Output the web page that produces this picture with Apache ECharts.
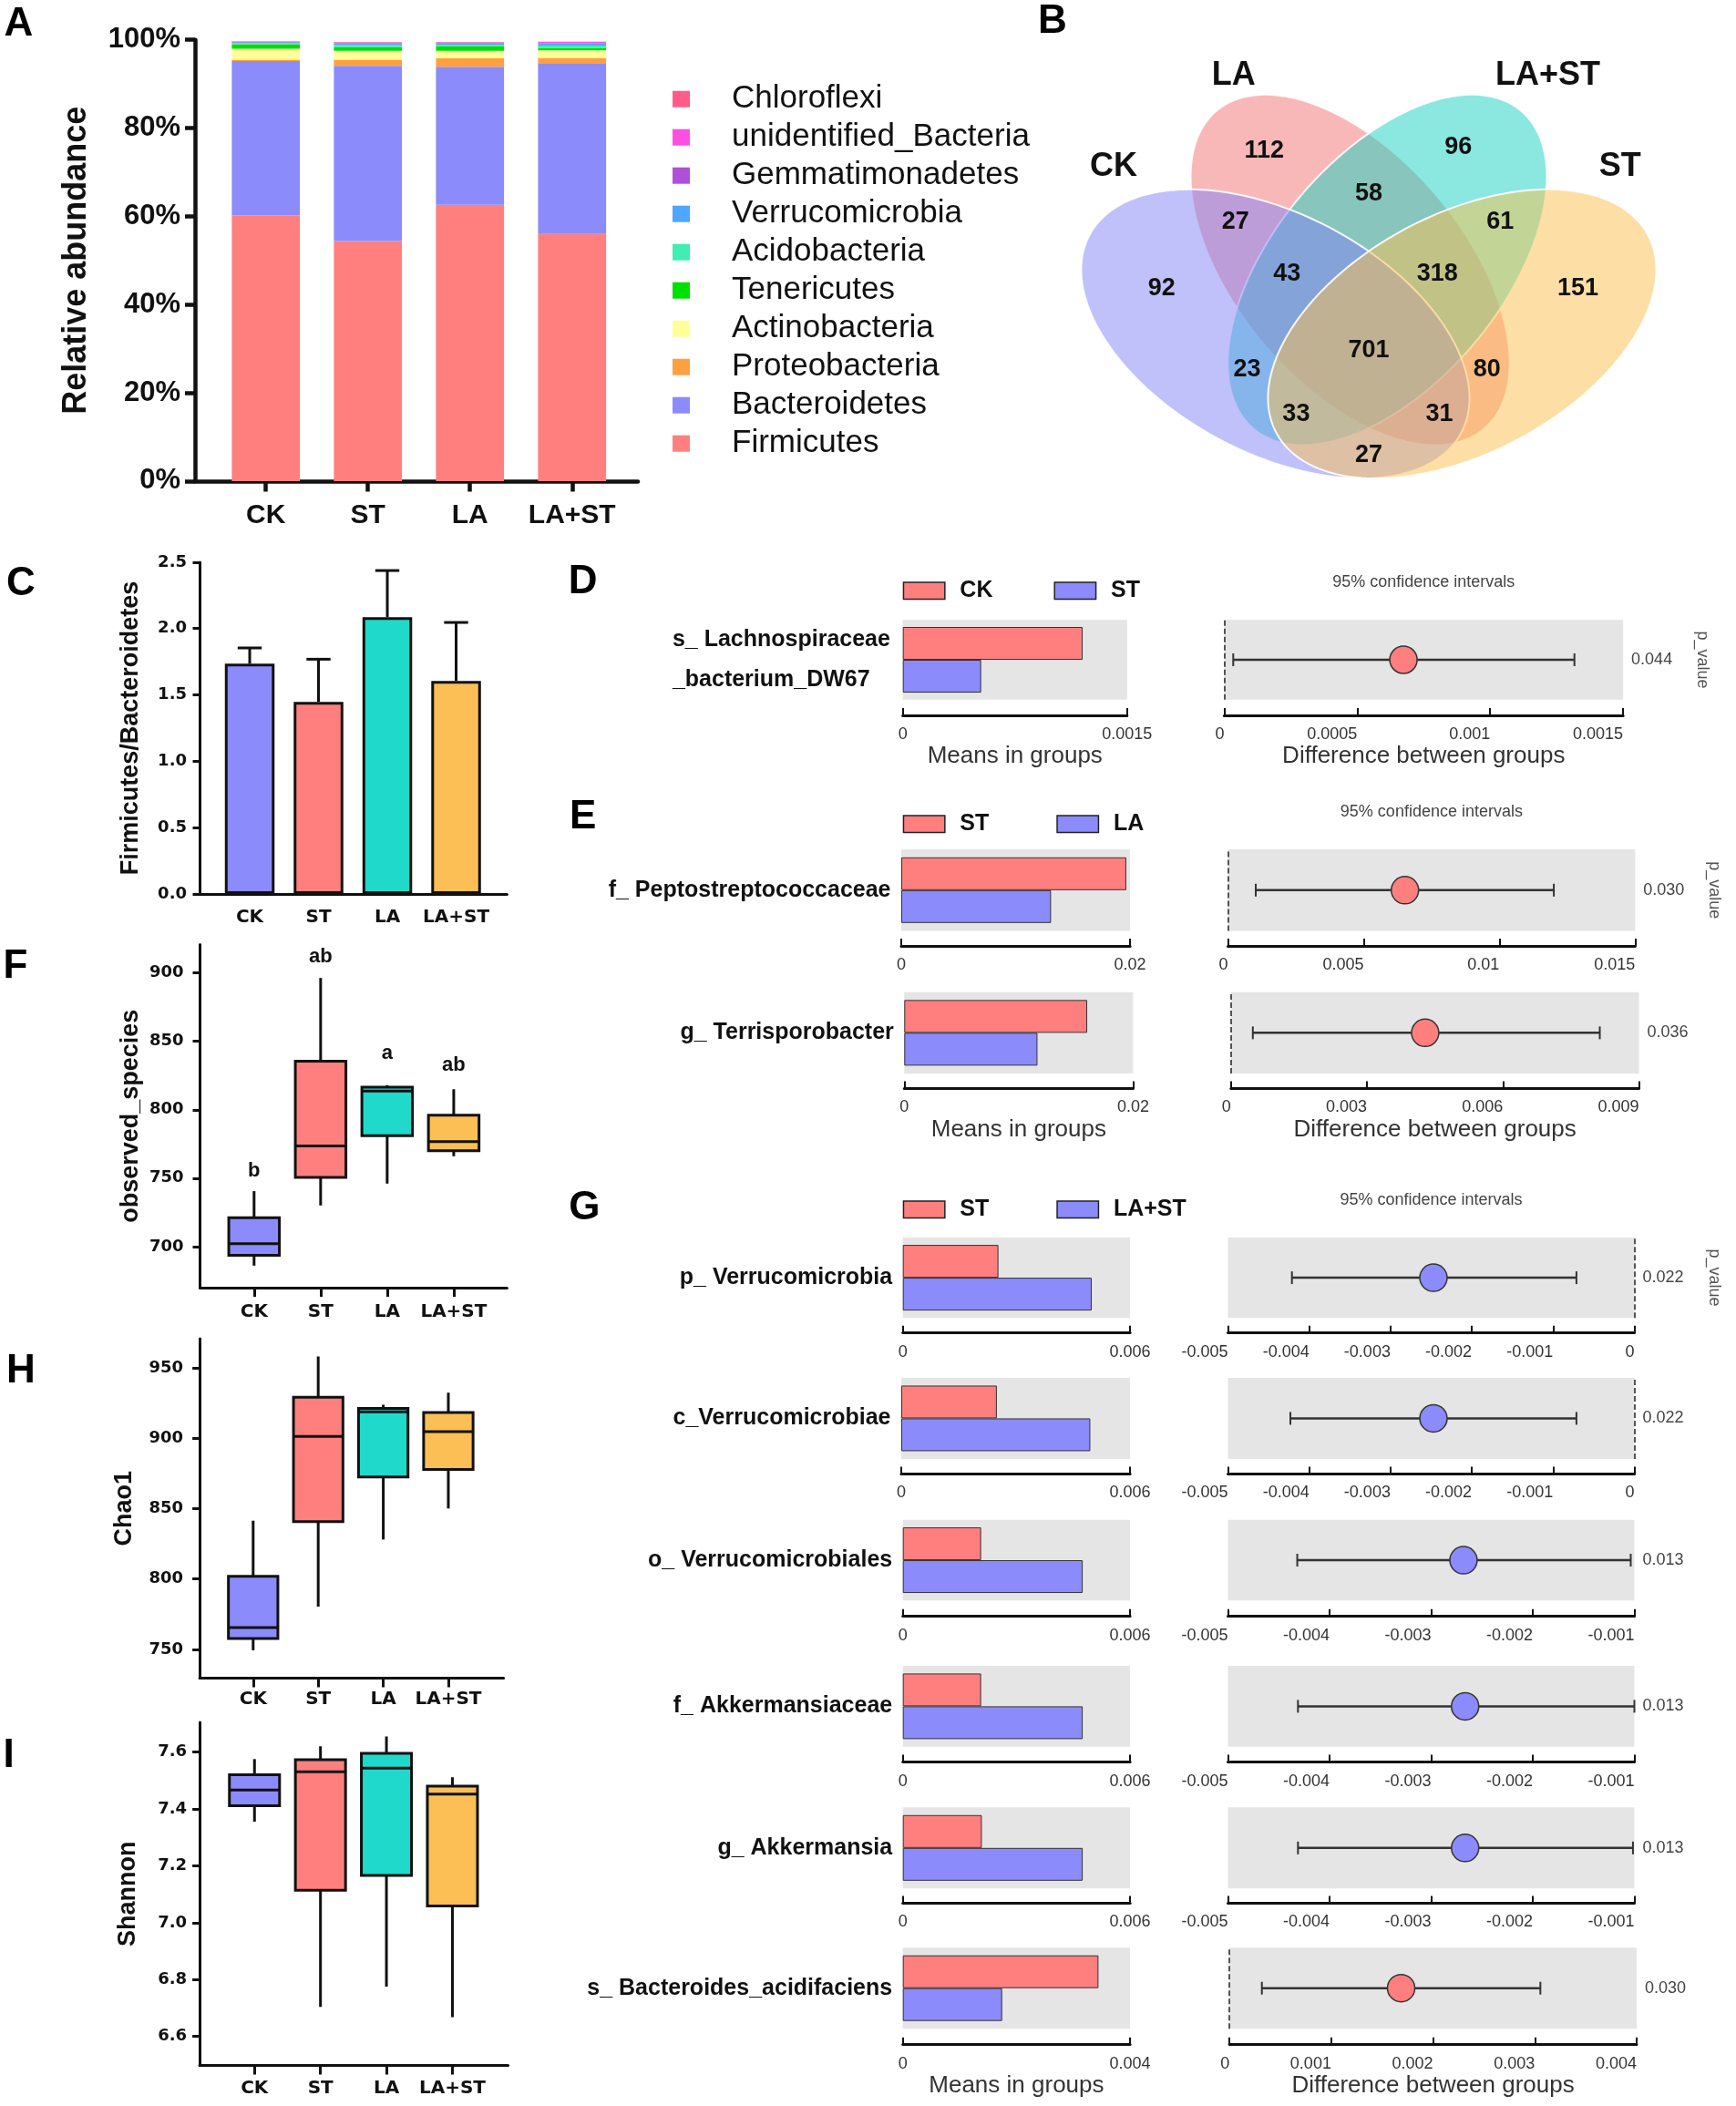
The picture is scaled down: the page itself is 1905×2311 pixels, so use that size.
<!DOCTYPE html>
<html><head><meta charset="utf-8">
<script src="https://cdn.jsdelivr.net/npm/echarts@6/dist/echarts.min.js"></script>
<style>html,body{margin:0;padding:0;background:#fff}#c{width:1905px;height:2311px}</style>
</head><body><div id="c"></div>
<script>
// ================= DATA =================
const groups = ['CK', 'ST', 'LA', 'LA+ST'];

// Panel A: relative abundance (%) per group, order CK, ST, LA, LA+ST
const phyla = ['Firmicutes','Bacteroidetes','Proteobacteria','Actinobacteria','Tenericutes','Acidobacteria','Verrucomicrobia','Gemmatimonadetes','unidentified_Bacteria','Chloroflexi'];
const firmicutes      = [60.2, 54.4, 62.6, 56.0];
const bacteroidetes   = [35.0, 39.7, 31.3, 38.7];
const proteobacteria  = [0.3, 1.4, 1.9, 1.2];
const actinobacteria  = [2.5, 2.0, 1.7, 1.7];
const tenericutes     = [1.0, 0.9, 1.1, 0.6];
const acidobacteria   = [0.2, 0.4, 0.3, 0.5];
const verrucomicrobia = [0.2, 0.3, 0.3, 0.4];
const gemmatimonadetes= [0.1, 0.1, 0.1, 0.1];
const unidentifiedBac = [0.1, 0.2, 0.1, 0.3];
const chloroflexi     = [0.1, 0.1, 0.1, 0.1];
const abundance = [firmicutes, bacteroidetes, proteobacteria, actinobacteria, tenericutes, acidobacteria, verrucomicrobia, gemmatimonadetes, unidentifiedBac, chloroflexi];
const legendOrderA = ['Chloroflexi','unidentified_Bacteria','Gemmatimonadetes','Verrucomicrobia','Acidobacteria','Tenericutes','Actinobacteria','Proteobacteria','Bacteroidetes','Firmicutes'];

// Panel B: Venn
const vennSets = ['CK', 'LA', 'LA+ST', 'ST'];
const vennCounts = [92, 112, 96, 151, 27, 58, 61, 43, 318, 701, 23, 80, 33, 31, 27];
// layout of the Venn (unit layout space): ellipse [centre u, centre v, semi-major, semi-minor (in x-units), screen angle deg]
const vennEllipses = [[0.3571, 0.4368, 0.3221, 0.1827, 28], [0.4716, 0.5545, 0.3179, 0.1743, 50], [0.5284, 0.5545, 0.3179, 0.1743, 130], [0.6429, 0.4368, 0.3221, 0.1827, 152]];
const vennDrawOrder = [1, 2, 0, 3];
const vennCountPos = [[0.183,0.520],[0.340,0.7735],[0.637,0.7793],[0.820,0.520],[0.296,0.6424],[0.5,0.6948],[0.701,0.6424],[0.375,0.5463],[0.605,0.5463],[0.5,0.4063],[0.314,0.3713],[0.681,0.3713],[0.389,0.2898],[0.608,0.2898],[0.5,0.2141]];
const vennSetLabelPos = [[0.1096,0.7443],[0.2934,0.9104],[0.7739,0.9104],[0.8845,0.7443]];

// Panel C: Firmicutes/Bacteroidetes ratio (mean, mean+SD)
const fbMean  = [1.736, 1.448, 2.086, 1.606];
const fbUpper = [1.854, 1.769, 2.437, 2.046];

// Panels F, H, I: box stats [min, q1, median, q3, max]
const observedSpecies = [[686, 693.5, 702, 721, 740.5],[730, 750.5, 773.5, 835.5, 896.4],[746, 781, 813.6, 816.5, 818],[766, 770, 776.7, 796, 815]];
const observedLetters = ['b', 'ab', 'a', 'ab'];
const observedLetterY = [755, 911.8, 841.2, 832.3];
const chao1 = [[749.3, 757.6, 765.5, 802, 841.5],[780.4, 840.8, 901.5, 929.4, 958.3],[828.1, 872.6, 918.9, 921.4, 924],[850.2, 878, 904.8, 918.5, 932.6]];
const shannon = [[7.355, 7.411, 7.466, 7.52, 7.575],[6.704, 7.114, 7.53, 7.573, 7.62],[6.775, 7.166, 7.543, 7.595, 7.654],[6.668, 7.059, 7.452, 7.48, 7.511]];
const observedTicks = [700, 750, 800, 850, 900];
const chaoTicks = [750, 800, 850, 900, 950];
const shannonTicks = [6.6, 6.8, 7.0, 7.2, 7.4, 7.6];

// Panels D, E, G: STAMP extended error bars
const stampTaxa = ['s_ Lachnospiraceae\n_bacterium_DW67','f_ Peptostreptococcaceae','g_ Terrisporobacter','p_ Verrucomicrobia','c_Verrucomicrobiae','o_ Verrucomicrobiales','f_ Akkermansiaceae','g_ Akkermansia','s_ Bacteroides_acidifaciens'];
const stampPanel = ['D','E','E','G','G','G','G','G','G'];
const comparisons = {D: ['CK', 'ST'], E: ['ST', 'LA'], G: ['ST', 'LA+ST']};
const stampGroup1Mean = [0.001203, 0.01967, 0.01599, 0.002524, 0.002507, 0.002067, 0.002067, 0.002086, 0.003443];
const stampGroup2Mean = [0.000524, 0.01309, 0.01164, 0.004987, 0.004956, 0.004749, 0.004749, 0.004749, 0.001748];
const stampDiff = [0.000674, 0.00652, 0.004284, -0.002472, -0.002472, -0.002682, -0.002666, -0.002666, 0.001686];
const stampLow  = [0.0000339, 0.001024, 0.000482, -0.004213, -0.004232, -0.004318, -0.004311, -0.004311, 0.000318];
const stampHigh = [0.001317, 0.012005, 0.008136, -0.000713, -0.000713, -0.001036, -0.001, -0.001014, 0.003054];
const stampP = ['0.044','0.030','0.036','0.022','0.022','0.013','0.013','0.013','0.030'];
const meansAxisMax = [0.0015, 0.02, 0.02, 0.006, 0.006, 0.006, 0.006, 0.006, 0.004];
const diffAxisTicks = [[0, 0.0015, 0.0005],[0, 0.015, 0.005],[0, 0.009, 0.003],[-0.005, 0, 0.001],[-0.005, 0, 0.001],[-0.005, -0.001, 0.001],[-0.005, -0.001, 0.001],[-0.005, -0.001, 0.001],[0, 0.004, 0.001]];

// ================= LAYOUT / STYLE =================
const groupColors = ['#8B8BFB', '#FF7F7F', '#1FD9CB', '#FBBF55'];
const phylaColors = ['#FF7F7F','#8B8BFB','#FFA040','#FFFF99','#00E000','#40EDB2','#4DA6FF','#B050D8','#FF4FE0','#FF5C8A'];
const vennFill = ['rgba(129,129,245,0.5)','rgba(243,113,113,0.5)','rgba(21,209,193,0.5)','rgba(251,191,77,0.5)'];
const RED = '#FF7F7F', BLUE = '#8B8BFB';
const FONT = 'Liberation Sans, Arial, Helvetica, sans-serif';
const WIDE = 'DejaVu Sans, Verdana, sans-serif';
// [meansLeft, meansRight, diffLeft, diffRight, top, bottom, axisLineY]
const stampLayout = [
  [990.7,1236.8,1343.4,1781.1,680.2,767.8,785.1],
  [989,1240.1,1347.5,1794.3,932,1021.6,1038.1],
  [992.3,1243.4,1350.8,1798.5,1088.7,1178,1194.4],
  [990.7,1240.1,1347.5,1793.5,1358,1446.2,1462.7],
  [989,1240.1,1347.5,1793.5,1512,1600.9,1617.4],
  [990.7,1240.1,1347.5,1793.5,1667.8,1756.3,1773.7],
  [990.7,1240.1,1347.5,1793.5,1828,1916.8,1933.6],
  [990.7,1240.1,1347.5,1793.5,1983.3,2072.3,2088.5],
  [990.7,1240.1,1349.2,1796,2137.2,2226.2,2243.7]
];

const chart = echarts.init(document.getElementById('c'), null, {renderer: 'canvas', width: 1905, height: 2311});

const grids = [], xAxes = [], yAxes = [], series = [], legends = [], graphics = [];
const idx4 = [0, 1, 2, 3];

function groupXAxis(gi, min, max, margin, tickLen, tickW, lineW, font, fontSize) {
  return {gridIndex: gi, type: 'value', min, max,
    axisLine: {show: true, onZero: false, lineStyle: {color: '#111', width: lineW}},
    axisTick: {show: tickLen > 0, customValues: idx4, length: tickLen, lineStyle: {color: '#111', width: tickW}},
    axisLabel: {customValues: idx4, formatter: v => groups[Math.round(v)], margin, fontFamily: font, fontWeight: 'bold', fontSize, color: '#111'},
    splitLine: {show: false}};
}
function valueYAxis(gi, min, max, ticks, name, nameGap, margin, fmt) {
  return {gridIndex: gi, type: 'value', min, max,
    axisLine: {show: true, onZero: false, lineStyle: {color: '#111', width: 3}},
    axisTick: {show: true, customValues: ticks, length: 8, lineStyle: {color: '#111', width: 3}},
    axisLabel: {customValues: ticks, formatter: fmt, margin, fontFamily: WIDE, fontWeight: 'bold', fontSize: 18, color: '#111'},
    splitLine: {show: false},
    name, nameLocation: 'middle', nameGap,
    nameTextStyle: {fontFamily: FONT, fontWeight: 'bold', fontSize: 27, color: '#111'}};
}

// ---- Grid 0: Panel A ----
grids.push({left: 214, top: 43.7, width: 486, height: 484.2});
xAxes.push(groupXAxis(0, -0.694, 3.645, 23, 11.5, 4.5, 4.5, FONT, 30));
yAxes.push({gridIndex: 0, type: 'value', min: 0, max: 100, interval: 20,
  axisLine: {show: true, onZero: false, lineStyle: {color: '#111', width: 4.5}},
  axisTick: {show: true, length: 11, lineStyle: {color: '#111', width: 4.5}},
  axisLabel: {formatter: '{value}%', margin: 16, fontFamily: FONT, fontWeight: 'bold', fontSize: 31, color: '#111'},
  splitLine: {show: false},
  name: 'Relative abundance', nameLocation: 'middle', nameGap: 111.7,
  nameTextStyle: {fontFamily: FONT, fontWeight: 'bold', fontSize: 36, color: '#111'}});
// stacked columns: each phylum segment sits on the sum of the phyla below it
phyla.forEach((name, j) => {
  series.push({type: 'custom', name, xAxisIndex: 0, yAxisIndex: 0, itemStyle: {color: phylaColors[j]},
    data: abundance[j].map((v, i) => [i, v]),
    renderItem: (params, api) => {
      const i = api.value(0);
      let base = 0;
      for (let q = 0; q < j; q++) base += abundance[q][i];
      const p0 = api.coord([i, base]), p1 = api.coord([i, base + api.value(1)]);
      const w = api.size([1, 0])[0] * 0.667;
      return {type: 'rect', shape: {x: p0[0] - w / 2, y: p1[1], width: w, height: p0[1] - p1[1]}, style: {fill: phylaColors[j]}};
    }});
});
legends.push({orient: 'vertical', left: 738, top: 91.2, padding: 0, itemWidth: 19, itemHeight: 18, itemGap: 7,
  icon: 'rect', selectedMode: false, data: legendOrderA,
  textStyle: {fontFamily: FONT, fontSize: 35, lineHeight: 35, color: '#111', padding: [0, 0, 0, 41]}});

// ---- Grid 1: Panel B (Venn, unit layout space) ----
grids.push({left: 1143.4, top: 30, width: 717.2, height: 597.3});
xAxes.push({gridIndex: 1, type: 'value', min: 0, max: 1, show: false});
yAxes.push({gridIndex: 1, type: 'value', min: 0, max: 1, show: false});
series.push({type: 'custom', xAxisIndex: 1, yAxisIndex: 1,
  data: vennDrawOrder.map(k => vennEllipses[k].concat([k])),
  renderItem: (params, api) => {
    const cu = api.value(0), cv = api.value(1), k = api.value(5);
    const unit = api.size([1, 1]);              // pixels per layout unit along x and y
    const a = api.value(2) * unit[0], b = api.value(3) * unit[0];
    const r = api.value(4) * Math.PI / 180;
    const pts = [];
    for (let s = 0; s < 240; s++) {
      const t = s / 240 * 2 * Math.PI;
      const px = a * Math.cos(t) * Math.cos(r) - b * Math.sin(t) * Math.sin(r);
      const py = a * Math.cos(t) * Math.sin(r) + b * Math.sin(t) * Math.cos(r);
      pts.push(api.coord([cu + px / unit[0], cv - py / unit[1]]));
    }
    return {type: 'polygon', shape: {points: pts}, style: {fill: vennFill[k], stroke: 'rgba(255,255,255,0.9)', lineWidth: 2}};
  }});
series.push({type: 'custom', xAxisIndex: 1, yAxisIndex: 1, z: 5,
  data: vennCounts.map((c, i) => [vennCountPos[i][0], vennCountPos[i][1], i]),
  renderItem: (params, api) => {
    const p = api.coord([api.value(0), api.value(1)]);
    return {type: 'text', x: p[0], y: p[1], style: {text: String(vennCounts[api.value(2)]), fontFamily: FONT, fontWeight: 'bold', fontSize: 27, fill: '#111', align: 'center', verticalAlign: 'middle', textAlign: 'center', textVerticalAlign: 'middle'}};
  }});
series.push({type: 'custom', xAxisIndex: 1, yAxisIndex: 1, z: 5,
  data: vennSets.map((s, i) => [vennSetLabelPos[i][0], vennSetLabelPos[i][1], i]),
  renderItem: (params, api) => {
    const p = api.coord([api.value(0), api.value(1)]);
    return {type: 'text', x: p[0], y: p[1], style: {text: vennSets[api.value(2)], fontFamily: FONT, fontWeight: 'bold', fontSize: 36, fill: '#111', align: 'center', verticalAlign: 'middle', textAlign: 'center', textVerticalAlign: 'middle'}};
  }});

// ---- Grid 2: Panel C ----
grids.push({left: 219.5, top: 616.9, width: 336.9, height: 364.2});
xAxes.push(groupXAxis(2, -0.722, 3.740, 16, 0, 3, 3, WIDE, 20));
yAxes.push(Object.assign(valueYAxis(2, 0, 2.5, null, 'Firmicutes/Bacteroidetes', 62.4, 14.5, v => v.toFixed(1)),
  {interval: 0.5, axisTick: {show: true, length: 8, lineStyle: {color: '#111', width: 3}},
   axisLabel: {formatter: v => v.toFixed(1), margin: 14.5, fontFamily: WIDE, fontWeight: 'bold', fontSize: 18, color: '#111'}}));
series.push({type: 'bar', xAxisIndex: 2, yAxisIndex: 2, barWidth: 54.5,
  data: fbMean.map((v, i) => ({value: [i, v], itemStyle: {color: groupColors[i]}})),
  itemStyle: {borderColor: '#111', borderWidth: 3}});
series.push({type: 'custom', xAxisIndex: 2, yAxisIndex: 2, z: 4,
  data: fbMean.map((v, i) => [i, v, fbUpper[i]]),
  renderItem: (params, api) => {
    const i = api.value(0);
    const b = api.coord([i, api.value(1)]), t = api.coord([i, api.value(2)]);
    const hw = api.size([1, 0])[0] * 0.175;
    return {type: 'group', children: [
      {type: 'line', shape: {x1: b[0], y1: b[1], x2: t[0], y2: t[1]}, style: {stroke: '#111', lineWidth: 3}},
      {type: 'line', shape: {x1: t[0] - hw, y1: t[1], x2: t[0] + hw, y2: t[1]}, style: {stroke: '#111', lineWidth: 3}}
    ]};
  }});

// ---- Box plot renderer ----
function boxRender(params, api) {
  const i = api.value(0);
  const lo = api.coord([i, api.value(1)]), q1 = api.coord([i, api.value(2)]);
  const md = api.coord([i, api.value(3)]), q3 = api.coord([i, api.value(4)]);
  const hi = api.coord([i, api.value(5)]);
  const w = api.size([1, 0])[0] * 0.76;
  return {type: 'group', children: [
    {type: 'line', shape: {x1: lo[0], y1: lo[1], x2: hi[0], y2: hi[1]}, style: {stroke: '#111', lineWidth: 3}},
    {type: 'rect', shape: {x: q1[0] - w / 2, y: q3[1], width: w, height: q1[1] - q3[1]}, style: {fill: groupColors[i], stroke: '#111', lineWidth: 3}},
    {type: 'line', shape: {x1: md[0] - w / 2, y1: md[1], x2: md[0] + w / 2, y2: md[1]}, style: {stroke: '#111', lineWidth: 3}}
  ]};
}
function boxSeries(gi, stats) {
  return {type: 'custom', xAxisIndex: gi, yAxisIndex: gi, z: 3, data: stats.map((s, i) => [i].concat(s)), renderItem: boxRender};
}

// ---- Grid 3: Panel F ----
grids.push({left: 219.5, top: 1036.5, width: 336.9, height: 376.5});
xAxes.push(groupXAxis(3, -0.812, 3.801, 17, 10, 3, 3, WIDE, 20));
yAxes.push(valueYAxis(3, 669.9, 920.8, observedTicks, 'observed_species', 62.4, 18, v => String(Math.round(v))));
series.push(boxSeries(3, observedSpecies));
series.push({type: 'custom', xAxisIndex: 3, yAxisIndex: 3, z: 5,
  data: observedLetterY.map((y, i) => [i, y]),
  renderItem: (params, api) => {
    const p = api.coord([api.value(0), api.value(1)]);
    return {type: 'text', x: p[0], y: p[1], style: {text: observedLetters[params.dataIndex], fontFamily: FONT, fontWeight: 'bold', fontSize: 22, fill: '#111', align: 'center', verticalAlign: 'middle', textAlign: 'center', textVerticalAlign: 'middle'}};
  }});

// ---- Grid 4: Panel H ----
grids.push({left: 219.1, top: 1469, width: 333.5, height: 372.6});
xAxes.push(groupXAxis(4, -0.822, 3.849, 13, 10, 3, 3, WIDE, 20));
yAxes.push(valueYAxis(4, 729.4, 971, chaoTicks, 'Chao1', 69.5, 18, v => String(Math.round(v))));
series.push(boxSeries(4, chao1));

// ---- Grid 5: Panel I ----
grids.push({left: 219.1, top: 1890.1, width: 338.4, height: 376.5});
xAxes.push(groupXAxis(5, -0.831, 3.843, 15, 10, 3, 3, WIDE, 20));
yAxes.push(valueYAxis(5, 6.498, 7.7037, shannonTicks, 'Shannon', 65, 14, v => v.toFixed(1)));
series.push(boxSeries(5, shannon));

// ---- Grids 6..: Panels D, E, G ----
const lastOfPanel = {D: 0, E: 2, G: 8};
const firstOfPanel = {D: 0, E: 1, G: 3};
stampTaxa.forEach((taxon, k) => {
  const [ml, mr, dl, dr, top, bot, axisY] = stampLayout[k];
  const mi = grids.length, di = mi + 1;
  const panel = stampPanel[k];
  const [g1, g2] = comparisons[panel];
  const isLast = lastOfPanel[panel] === k;
  grids.push({left: ml, top, width: mr - ml, height: bot - top, show: true, backgroundColor: '#E5E5E5', borderWidth: 0});
  grids.push({left: dl, top, width: dr - dl, height: bot - top, show: true, backgroundColor: '#E5E5E5', borderWidth: 0});
  const axisCommon = {
    axisLine: {show: true, onZero: false, lineStyle: {color: '#111', width: 3}},
    axisTick: {show: true, inside: true, length: 8, lineStyle: {color: '#111', width: 2}},
    splitLine: {show: false}, offset: axisY - bot,
    nameLocation: 'middle', nameGap: 32, nameTextStyle: {fontFamily: FONT, fontSize: 26, color: '#333'}
  };
  xAxes.push(Object.assign({gridIndex: mi, type: 'value', min: 0, max: meansAxisMax[k], interval: meansAxisMax[k],
    axisLabel: {margin: 12, fontFamily: FONT, fontSize: 18, color: '#333'},
    name: isLast ? 'Means in groups' : ''}, axisCommon));
  const [dmin, dmax, dint] = diffAxisTicks[k];
  xAxes.push(Object.assign({gridIndex: di, type: 'value', min: dmin, max: dmax, interval: dint,
    axisLabel: {margin: 12, fontFamily: FONT, fontSize: 18, color: '#333', align: 'right'},
    name: isLast ? 'Difference between groups' : ''}, axisCommon));
  const twoLine = taxon.indexOf('\n') >= 0;
  yAxes.push({gridIndex: mi, type: 'category', data: [taxon],
    axisLine: {show: false, onZero: false}, axisTick: {show: false}, splitLine: {show: false},
    axisLabel: {margin: twoLine ? 252.8 : 11.5, align: twoLine ? 'left' : 'right', lineHeight: 44,
      fontFamily: FONT, fontWeight: 'bold', fontSize: 25, color: '#111'}});
  yAxes.push({gridIndex: di, type: 'category', data: [stampP[k]], position: 'right',
    axisLine: {show: false, onZero: false}, axisTick: {show: false}, splitLine: {show: false},
    axisLabel: {margin: 9, fontFamily: FONT, fontSize: 18, color: '#444'}});
  series.push({type: 'bar', name: g1, xAxisIndex: mi, yAxisIndex: mi, barWidth: 36, barGap: '0%',
    data: [stampGroup1Mean[k]], itemStyle: {color: RED, borderColor: '#333', borderWidth: 1}});
  series.push({type: 'bar', name: g2, xAxisIndex: mi, yAxisIndex: mi, barWidth: 36, barGap: '0%',
    data: [stampGroup2Mean[k]], itemStyle: {color: BLUE, borderColor: '#333', borderWidth: 1}});
  const s = {type: 'custom', xAxisIndex: di, yAxisIndex: di, z: 4,
    data: [[stampDiff[k], stampLow[k], stampHigh[k], 0]],
    renderItem: (params, api) => {
      const c = api.coord([api.value(0), api.value(3)]);
      const lo = api.coord([api.value(1), api.value(3)]);
      const hi = api.coord([api.value(2), api.value(3)]);
      const col = api.value(0) >= 0 ? RED : BLUE;
      return {type: 'group', children: [
        {type: 'line', shape: {x1: lo[0], y1: lo[1], x2: hi[0], y2: hi[1]}, style: {stroke: '#333', lineWidth: 2.5}},
        {type: 'line', shape: {x1: lo[0], y1: lo[1] - 7, x2: lo[0], y2: lo[1] + 7}, style: {stroke: '#333', lineWidth: 2}},
        {type: 'line', shape: {x1: hi[0], y1: hi[1] - 7, x2: hi[0], y2: hi[1] + 7}, style: {stroke: '#333', lineWidth: 2}},
        {type: 'circle', shape: {cx: c[0], cy: c[1], r: 15}, style: {fill: col, stroke: '#333', lineWidth: 1.5}}
      ]};
    }};
  if (dmin <= 0 && dmax >= 0) {
    s.markLine = {silent: true, symbol: 'none', label: {show: false},
      lineStyle: {type: 'dashed', color: '#222', width: 1.5}, data: [{xAxis: 0}]};
  }
  series.push(s);
  if (firstOfPanel[panel] === k) {
    graphics.push({type: 'text', x: (dl + dr) / 2, y: top - 41,
      style: {text: '95% confidence intervals', fontFamily: FONT, fontSize: 18, fill: '#444', textAlign: 'center', textVerticalAlign: 'middle', align: 'center', verticalAlign: 'middle'}});
    graphics.push({type: 'text', x: dr + 87, y: (top + bot) / 2, rotation: -Math.PI / 2,
      style: {text: 'p_value', fontFamily: FONT, fontSize: 18, fill: '#555', textAlign: 'center', textVerticalAlign: 'middle', align: 'center', verticalAlign: 'middle'}});
  }
});

// legends for D, E, G
function pairLegend(top, gap, g1, g2) {
  return {orient: 'horizontal', left: 990.7, top, padding: 0, itemWidth: 45.4, itemHeight: 18.5, itemGap: gap,
    icon: 'rect', selectedMode: false,
    data: [{name: g1, itemStyle: {color: RED, borderColor: '#222', borderWidth: 1.5}},
           {name: g2, itemStyle: {color: BLUE, borderColor: '#222', borderWidth: 1.5}}],
    textStyle: {fontFamily: FONT, fontWeight: 'bold', fontSize: 25, color: '#111', padding: [0, 0, 0, 11.5]}};
}
legends.push(pairLegend(635.8, 67, ...comparisons.D));
legends.push(pairLegend(891.8, 74, ...comparisons.E));
legends.push(pairLegend(1314.8, 74, ...comparisons.G));

// panel letters
const panelLetters = [['A',20.5,26.6],['B',1155,24],['C',22.8,641],['D',639.6,639],['E',639.6,897],['F',17,1060.7],['G',641.3,1326],['H',22.8,1505.3],['I',9.5,1926.4]];
panelLetters.forEach(([t, x, y]) => {
  graphics.push({type: 'text', x, y, style: {text: t, fontFamily: FONT, fontWeight: 'bold', fontSize: 44, fill: '#000', textAlign: 'center', textVerticalAlign: 'middle', align: 'center', verticalAlign: 'middle'}});
});

chart.setOption({
  animation: false,
  backgroundColor: '#ffffff',
  textStyle: {fontFamily: FONT},
  grid: grids, xAxis: xAxes, yAxis: yAxes, series, legend: legends,
  graphic: {elements: graphics}
});
</script></body></html>
